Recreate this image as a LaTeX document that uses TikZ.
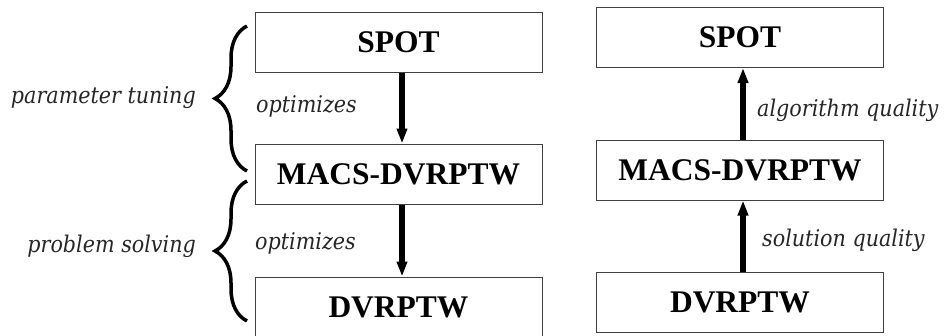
\documentclass[tikz,border=0pt]{standalone}
\usepackage{fontspec}
\setmainfont{Liberation Serif}
\newfontfamily\lblfont{DejaVu Serif Condensed}
\usetikzlibrary{arrows.meta,decorations.pathreplacing}
\begin{document}
\begin{tikzpicture}[x=1pt,y=-1pt,
  box/.style={draw=black!75, line width=1pt, minimum width=287pt, minimum height=60pt,
    inner sep=0pt, font=\fontsize{31.5}{31.5}\selectfont\bfseries},
  flow/.style={line width=5.5pt, -{Triangle[length=15pt,width=10pt]}},
  lbl/.style={inner sep=0pt, font=\fontsize{23}{23}\selectfont\lblfont\itshape, text=black!85},
  curly/.style={line width=3.5pt, decorate, decoration={brace, amplitude=32pt}}]
  \useasboundingbox (0,0) rectangle (945,335);
  \begin{scope}
    \clip (0,0) rectangle (945,335);
    % left column: tuning hierarchy
    \node[box] (ls) at (398.5,42) {SPOT};
    \node[box] (lm) at (398.5,174) {MACS-DVRPTW};
    \node[box] (ld) at (398.5,307) {DVRPTW};
  \end{scope}
  \draw[flow] ([xshift=3.5pt]ls.south) -- ([xshift=3.5pt]lm.north);
  \draw[flow] ([xshift=3.5pt]lm.south) -- ([xshift=3.5pt]ld.north);
  \node[lbl, anchor=west] (lo1) at (256,106) {optimizes};
  \node[lbl, anchor=west] (lo2) at (255,243) {optimizes};
  % braces grouping the levels
  \coordinate (b1t) at (247,26);
  \coordinate (b1b) at (247,171);
  \coordinate (b2t) at (247,181);
  \coordinate (b2b) at (247,321);
  \draw[curly] (b1b) -- (b1t);
  \draw[curly] (b2b) -- (b2t);
  \node[lbl, anchor=east] (pt) at (196,98) {parameter tuning};
  \node[lbl, anchor=east] (ps) at (196,246) {problem solving};
  % right column: feedback hierarchy
  \node[box] (rs) at (740,37.5) {SPOT};
  \node[box] (rm) at (740,170) {MACS-DVRPTW};
  \node[box] (rd) at (740,302) {DVRPTW};
  \draw[flow] ([xshift=3pt]rm.north) -- ([xshift=3pt]rs.south);
  \draw[flow] ([xshift=3pt]rd.north) -- ([xshift=3pt]rm.south);
  \node[lbl, anchor=west] (ra) at (757,110) {algorithm quality};
  \node[lbl, anchor=west] (rq) at (762,240) {solution quality};
\end{tikzpicture}
\end{document}
